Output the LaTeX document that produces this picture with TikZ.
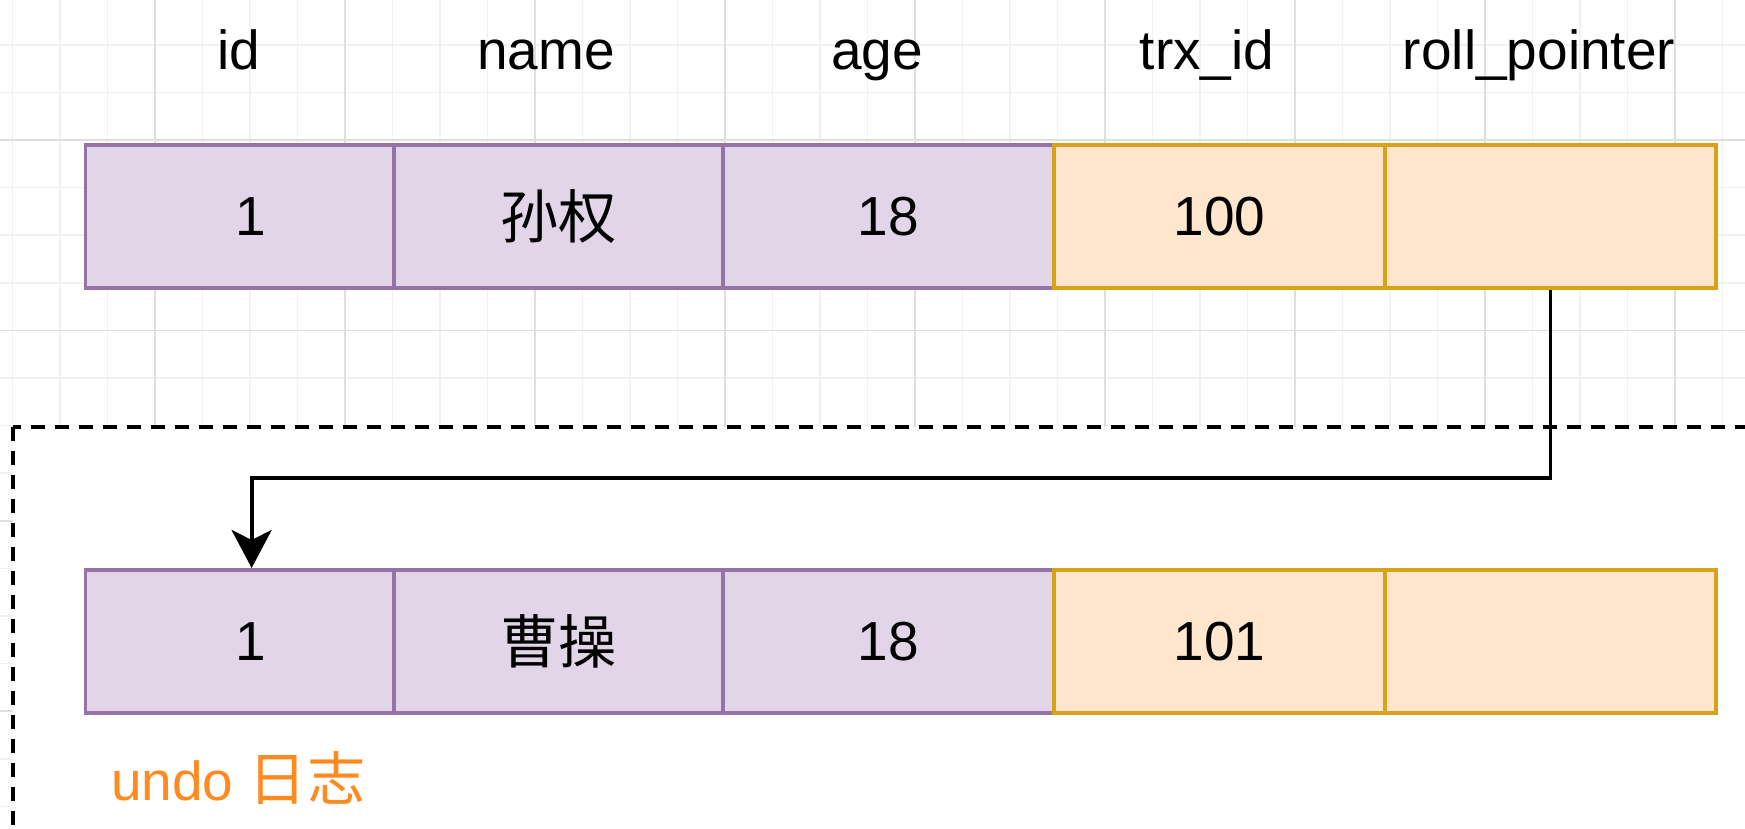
\documentclass[tikz,border=0pt]{standalone}
\usepackage{fontspec}
\setmainfont{Liberation Sans}
\newfontfamily\cjk{Noto Sans CJK SC}[Scale=1.06]
\usetikzlibrary{arrows.meta}
\definecolor{purplefill}{HTML}{E1D5E7}
\definecolor{purpledraw}{HTML}{9673A6}
\definecolor{orangefill}{HTML}{FFE6CC}
\definecolor{orangedraw}{HTML}{D9A21B}
\definecolor{gridminor}{HTML}{F1F1F1}
\definecolor{gridmajor}{HTML}{DFDFDF}
\definecolor{undocolor}{HTML}{FF8A1F}
\begin{document}
\begin{tikzpicture}[x=1pt,y=-1pt,
  txt/.style={font=\fontsize{55}{66}\selectfont},
  cell/.style={draw, line width=3.8pt, minimum height=143pt, inner sep=0pt, anchor=north west, txt},
  pcell/.style={cell, fill=purplefill, draw=purpledraw},
  ocell/.style={cell, fill=orangefill, draw=orangedraw},
  hdr/.style={txt, anchor=base, inner sep=0pt},
  link/.style={line width=3.8pt, -{Stealth[length=38pt,width=40pt,inset=10pt]}},
  undobox/.style={draw, line width=4pt, dash pattern=on 14pt off 10pt, fill=white}]
\useasboundingbox (0,0) rectangle (1745,829);
\clip (0,0) rectangle (1745,829);
% grid
\foreach \i in {0,...,36} {\draw[gridminor, line width=1.5pt] ({12.5+47.5*\i},0) -- ({12.5+47.5*\i},829);}
\foreach \j in {1,...,17} {\draw[gridminor, line width=1.5pt] (0,{-2.8+47.6*\j}) -- (1745,{-2.8+47.6*\j});}
\foreach \i in {3,7,...,35} {\draw[gridmajor, line width=1.5pt] ({12.5+47.5*\i},0) -- ({12.5+47.5*\i},829);}
\foreach \j in {3,7,11,15} {\draw[gridmajor, line width=1.5pt] (0,{-2.8+47.6*\j}) -- (1745,{-2.8+47.6*\j});}
% undo log area
\draw[undobox] (13,427) rectangle (1800,900);
% headers
\node[hdr] (h1) at (239,70) {id};
\node[hdr] (h2) at (546,70) {name};
\node[hdr] (h3) at (877,70) {age};
\node[hdr] (h4) at (1207,70) {trx\_id};
\node[hdr] (h5) at (1539,70) {roll\_pointer};
% top row
\node[pcell, minimum width=308.5pt] (t1) at (83.5,143) {\hspace*{22pt}1};
\node[pcell, minimum width=329pt] (t2) at (392,143) {\cjk 孙权};
\node[pcell, minimum width=331pt] (t3) at (721,143) {18};
\node[ocell, minimum width=331pt] (t4) at (1052,143) {100};
\node[ocell, minimum width=331pt] (t5) at (1383,143) {};
% bottom row
\node[pcell, minimum width=308.5pt] (b1) at (83.5,568) {\hspace*{22pt}1};
\node[pcell, minimum width=329pt] (b2) at (392,568) {\cjk 曹操};
\node[pcell, minimum width=331pt] (b3) at (721,568) {18};
\node[ocell, minimum width=331pt] (b4) at (1052,568) {101};
\node[ocell, minimum width=331pt] (b5) at (1383,568) {};
% connector
\draw[link] (t5.south) -- ++(0,188) -| ([xshift=12pt]b1.north);
% label
\node[txt, text=undocolor, anchor=base west, inner sep=0pt] (undo) at (111,800) {undo {\cjk 日志}};
\end{tikzpicture}
\end{document}
